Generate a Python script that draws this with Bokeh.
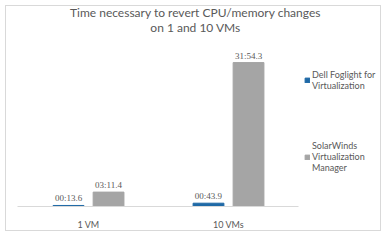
from bokeh.plotting import figure
from bokeh.models import Label, Legend, LegendItem, ColumnDataSource, Range1d, FixedTicker
from bokeh.embed import file_html
from bokeh.resources import INLINE

categories = ["1 VM", "10 VMs"]
series_names = ["Dell Foglight for\nVirtualization", "SolarWinds\nVirtualization\nManager"]
dell_seconds = [13.6, 43.9]
solarwinds_seconds = [191.4, 1914.3]
dell_labels = ["00:13.6", "00:43.9"]
solarwinds_labels = ["03:11.4", "31:54.3"]
title_lines = ["Time necessary to revert CPU/memory changes", "on 1 and 10 VMs"]

BLUE = "#1F69A6"
GRAY = "#A5A5A5"
TXT = "#595959"
FONT = "Lato"

pos = [i + 0.5 for i in range(len(categories))]
src = ColumnDataSource(dict(xd=[x - 0.143 for x in pos], xs=[x + 0.143 for x in pos],
                            dell=dell_seconds, sw=solarwinds_seconds,
                            dl=dell_labels, sl=solarwinds_labels))

p = figure(x_range=Range1d(-0.086, 2.6), y_range=Range1d(0, 2660), width=376, height=226,
           output_backend="svg", toolbar_location=None,
           min_border_left=0, min_border_right=0, min_border_top=0, min_border_bottom=23,
           styles={"border": "1px solid #D9D9D9", "margin-left": "5px", "margin-top": "5px"})
p.outline_line_color = None
p.xgrid.visible = False
p.ygrid.visible = False
p.yaxis.visible = False
p.xaxis.ticker = FixedTicker(ticks=pos)
p.xaxis.major_label_overrides = {x: c for x, c in zip(pos, categories)}
p.xaxis.bounds = (-0.005, 2.0)
p.xaxis.axis_line_color = "#D9D9D9"
p.xaxis.major_tick_line_color = None
p.xaxis.minor_tick_line_color = None
p.xaxis.major_label_text_color = TXT
p.xaxis.major_label_text_font = FONT
p.xaxis.major_label_text_font_size = "9px"
p.xaxis.major_label_standoff = 6

r1 = p.vbar(x="xd", top="dell", width=0.22, source=src, color=BLUE)
r2 = p.vbar(x="xs", top="sw", width=0.22, source=src, color=GRAY)
p.text(x="xd", y="dell", text="dl", source=src,
       text_align="center", text_baseline="bottom", y_offset=-2,
       text_font_size="9px", text_color=TXT, text_font=FONT)
p.text(x="xs", y="sw", text="sl", source=src,
       text_align="center", text_baseline="bottom", y_offset=-2,
       text_font_size="9px", text_color=TXT, text_font=FONT)

for line, yy in zip(title_lines, [194, 179]):
    p.add_layout(Label(x=189, y=yy, x_units="screen", y_units="screen", text=line,
                       text_align="center", text_baseline="middle",
                       text_font_size="12px", text_color=TXT, text_font=FONT))

legend = Legend(items=[LegendItem(label=series_names[0], renderers=[r1]),
                       LegendItem(label=series_names[1], renderers=[r2])],
                location=(298, 33), border_line_color=None, background_fill_alpha=0,
                label_text_font_size="9px", label_text_color=TXT, label_text_font=FONT,
                glyph_width=6, glyph_height=6, label_standoff=2, spacing=49,
                margin=0, padding=0, label_height=12, label_text_line_height=1.35)
p.add_layout(legend, "center")

open("out.html", "w").write(file_html(p, INLINE))
